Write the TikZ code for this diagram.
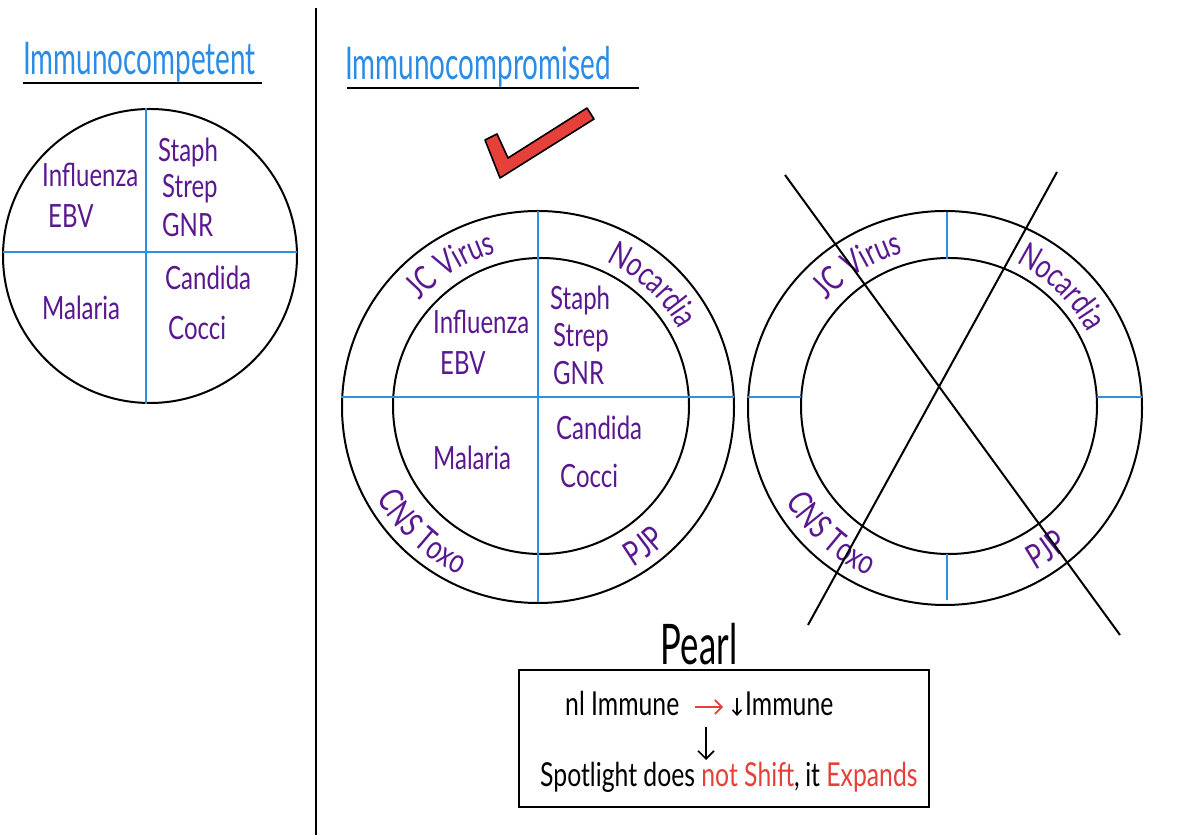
\documentclass[tikz,border=0pt]{standalone}
\usepackage{fontspec}
\usepackage{xcolor}
\usetikzlibrary{decorations.text,arrows.meta}
\newfontfamily\hand[FakeStretch=0.75]{Lato}
\newfontfamily\handnarrow[FakeStretch=0.62]{Lato}
\definecolor{purp}{HTML}{5A1890}
\definecolor{tblue}{HTML}{2A8CE6}
\definecolor{lblue}{HTML}{3090E0}
\definecolor{rred}{HTML}{E5403A}
\begin{document}
\begin{tikzpicture}[x=1pt,y=1pt,
  ring/.style={draw=black,line width=2pt},
  quad/.style={draw=lblue,line width=2pt},
  lbl/.style={font=\hand\fontsize{32}{34}\selectfont,text=purp,inner sep=0pt,anchor=base west},
  ttl/.style={font=\handnarrow\fontsize{45}{47}\selectfont,text=tblue,inner sep=0pt,anchor=base west},
  blk/.style={font=\hand\fontsize{33}{35}\selectfont,text=black,inner sep=0pt,anchor=base west},
  toplab/.style={decorate,decoration={text along path,text align=center,text color=purp,text={|\hand\fontsize{34}{36}\selectfont|#1}}},
]
\useasboundingbox[fill=white] (0,0) rectangle (1200,835);
% divider
\draw[line width=2pt] (316,827) -- (316,0);
% titles
\node[ttl] (t1) at (23,760) {Immunocompetent};
\draw[line width=2pt] (23,752) -- (262,752);
\node[ttl] (t2) at (345,755) {Immunocompromised};
\draw[line width=2pt] (347,747) -- (639,747);
% check mark
\draw[fill=rred,line width=1.6pt,line join=round] (485,695) -- (497,701) -- (508,677) -- (587,727) -- (594,716) -- (500,657) -- cycle;
% left circle
\draw[ring] (150,579) circle[radius=147pt];
\draw[quad] (146,727) -- (146,431);
\draw[quad] (3,583) -- (297,583);
\node[lbl] (l1) at (42,648) {Influenza};
\node[lbl] (l2) at (48,607) {EBV};
\node[lbl] (l3) at (158,673) {Staph};
\node[lbl] (l4) at (162,637) {Strep};
\node[lbl] (l5) at (162,598) {GNR};
\node[lbl] (l6) at (165,545) {Candida};
\node[lbl] (l7) at (168,495) {Cocci};
\node[lbl] (l8) at (42,515) {Malaria};
% middle circles
\draw[ring] (538,428) circle[radius=196pt];
\draw[ring] (541,429) circle[radius=148pt];
\draw[quad] (538,624) -- (538,233);
\draw[quad] (341,438) -- (734,438);
\node[lbl] (m1) at (433,501) {Influenza};
\node[lbl] (m2) at (440,460) {EBV};
\node[lbl] (m3) at (550,525) {Staph};
\node[lbl] (m4) at (553,488) {Strep};
\node[lbl] (m5) at (553,450) {GNR};
\node[lbl] (m6) at (556,395) {Candida};
\node[lbl] (m7) at (560,347) {Cocci};
\node[lbl] (m8) at (433,365) {Malaria};
\path[toplab={JC Virus}] (539,428) ++(152:160) arc[start angle=152,end angle=92,radius=160pt];
\path[toplab={Nocardia}] (539,428) ++(77:160) arc[start angle=77,end angle=17,radius=160pt];
\path[toplab={CNS Toxo}] (539,428) ++(197:186) arc[start angle=197,end angle=257,radius=186pt];
\path[toplab={PJP}] (539,428) ++(277:186) arc[start angle=277,end angle=337,radius=186pt];
% right circles
\draw[ring] (945,427) circle[radius=197pt];
\draw[ring] (949,429) circle[radius=148pt];
\draw[quad] (947,623) -- (947,576);
\draw[quad] (947,281) -- (947,235);
\draw[quad] (748,438) -- (801,438);
\draw[quad] (1097,438) -- (1142,438);
\path[toplab={JC Virus}] (946,428) ++(152:160) arc[start angle=152,end angle=92,radius=160pt];
\path[toplab={Nocardia}] (946,428) ++(76:160) arc[start angle=76,end angle=16,radius=160pt];
\path[toplab={CNS Toxo}] (946,428) ++(198:186) arc[start angle=198,end angle=258,radius=186pt];
\path[toplab={PJP}] (946,428) ++(275:186) arc[start angle=275,end angle=335,radius=186pt];
% cross
\draw[line width=2pt] (785,660) -- (1120,200);
\draw[line width=2pt] (1057,663) -- (808,210);
% pearl
\node[font=\handnarrow\fontsize{56}{58}\selectfont,inner sep=0pt,anchor=base] (pearl) at (699,170) {Pearl};
\draw[line width=2pt] (519,165) rectangle (929,28);
\node[blk] (n1) at (565,119) {nl Immune};
\node[blk] (n2) at (745,119) {Immune};
\coordinate (da) at (737,137);
\coordinate (db) at (737,119);
\draw[line width=1.6pt,-{Straight Barb[length=5pt,width=9pt]}] (da) -- (db);
\coordinate (ra) at (695,128);
\coordinate (rb) at (723,128);
\draw[rred,line width=1.6pt,-{Straight Barb[length=7pt,width=14pt]}] (ra) -- (rb);
\node[blk] (s1) at (540,48) {Spotlight does \textcolor{rred}{not Shift},\,it \textcolor{rred}{Expands}};
\coordinate (ba) at (706,108);
\coordinate (bb) at (706,75);
\draw[line width=1.6pt,-{Straight Barb[length=8pt,width=16pt]}] (ba) -- (bb);
\end{tikzpicture}
\end{document}
